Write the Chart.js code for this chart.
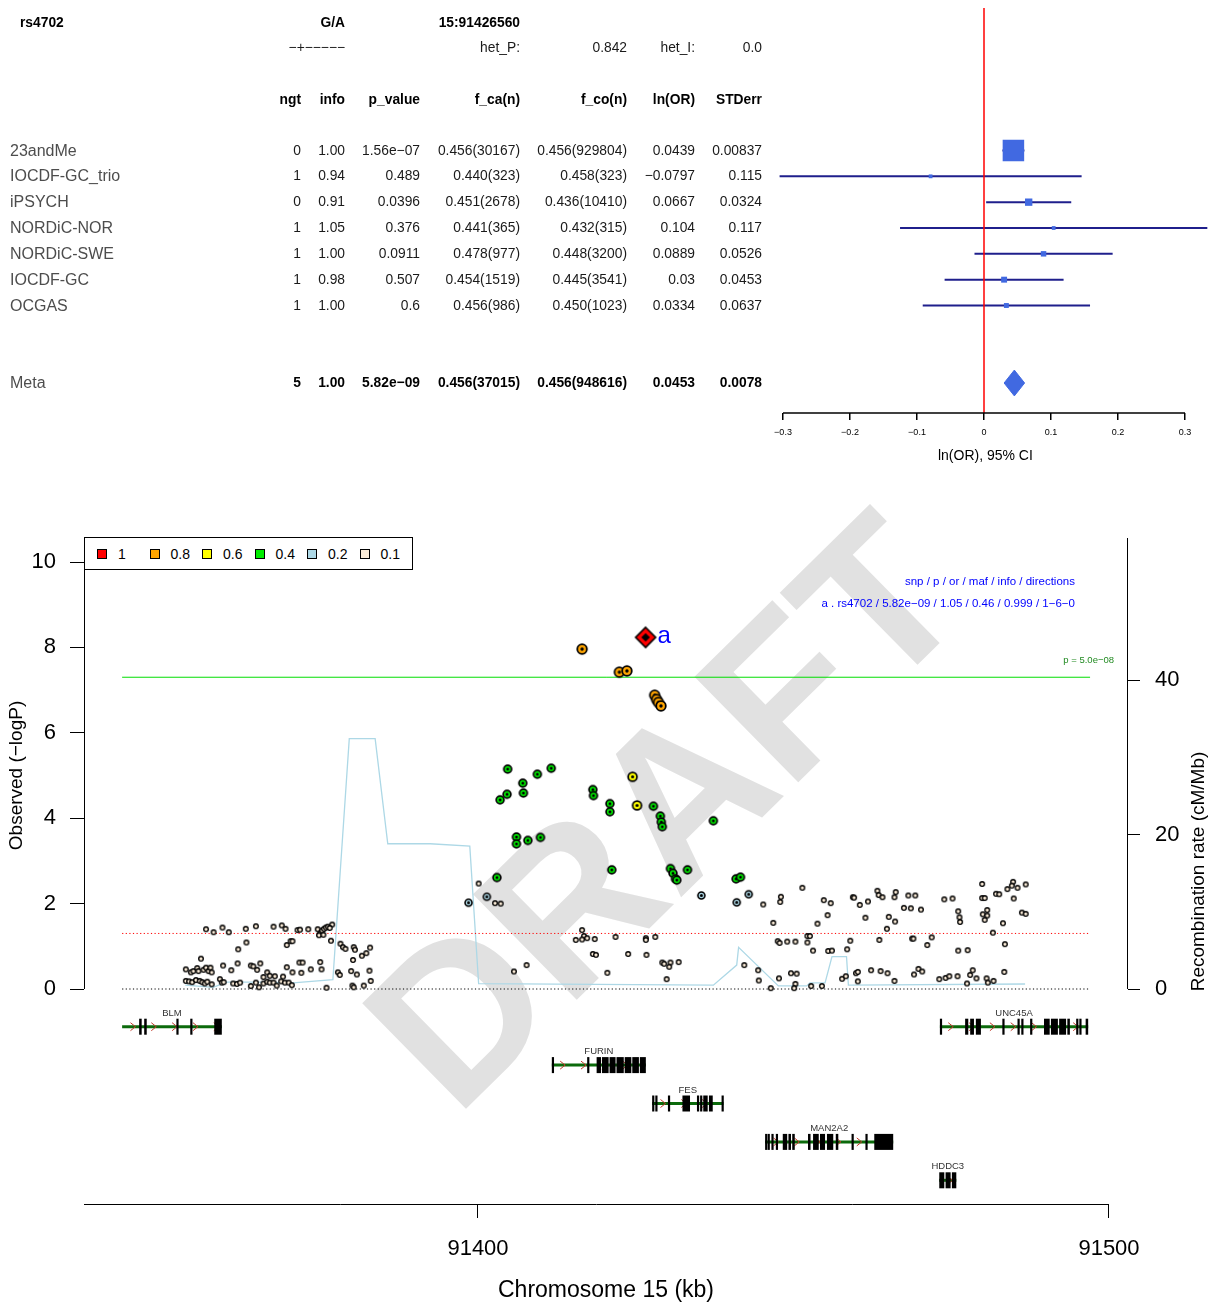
<!DOCTYPE html>
<html lang="en">
<head>
<meta charset="utf-8">
<title>rs4702 association and regional plot</title>
<script src="https://cdn.jsdelivr.net/npm/chart.js@4.4.1/dist/chart.umd.min.js"></script>
<style>
  html, body { margin:0; padding:0; background:#fff; }
  body { position:relative; width:1216px; height:1305px; overflow:hidden;
         font-family:"Liberation Sans", Arial, Helvetica, sans-serif; color:#000; }
  canvas { position:absolute; left:0; }
  #forestCanvas { top:0; }
  #locusCanvas { top:480px; }
  .cell { position:absolute; white-space:nowrap; line-height:1; transform:translateY(-50%);
          font-size:13.8px; color:#1a1a1a; }
  .cell.b { font-weight:bold; color:#000; }
  .cell.name { font-size:16px; color:#4d4d4d; }
  #ldLegend { position:absolute; left:84px; top:537px; width:329px; height:33px; box-sizing:border-box;
              border:1px solid #000; background:#fff; display:flex; align-items:center; padding-left:12px;
              font-size:14px; color:#000; }
  .lg-item { display:flex; align-items:center; width:54px; }
  .lg-sw { width:8px; height:8px; border:1px solid #000; margin-right:11px; }
</style>
</head>
<body>
<canvas id="forestCanvas" width="1216" height="480"></canvas>
<canvas id="locusCanvas" width="1216" height="825"></canvas>
<div id="ldLegend"></div>
<script>
const FONT = '"Liberation Sans", Arial, Helvetica, sans-serif';
Chart.defaults.font.family = FONT;
Chart.defaults.color = '#000';

/* ---------------- SNP summary and per-study results ---------------- */
const snpId = 'rs4702';
const snpAlleles = 'G/A';
const snpLocation = '15:91426560';
const snpDirections = '−+−−−−−';
const hetP = '0.842';
const hetI = '0.0';

const studyNames  = ['23andMe', 'IOCDF-GC_trio', 'iPSYCH', 'NORDiC-NOR', 'NORDiC-SWE', 'IOCDF-GC', 'OCGAS'];
const studyNgt    = [0, 1, 0, 1, 1, 1, 1];
const studyInfo   = ['1.00', '0.94', '0.91', '1.05', '1.00', '0.98', '1.00'];
const studyP      = ['1.56e-07', '0.489', '0.0396', '0.376', '0.0911', '0.507', '0.6'];
const studyFCase  = ['0.456(30167)', '0.440(323)', '0.451(2678)', '0.441(365)', '0.478(977)', '0.454(1519)', '0.456(986)'];
const studyFCtrl  = ['0.456(929804)', '0.458(323)', '0.436(10410)', '0.432(315)', '0.448(3200)', '0.445(3541)', '0.450(1023)'];
const studyLnOR   = [0.0439, -0.0797, 0.0667, 0.104, 0.0889, 0.03, 0.0334];
const studySE     = [0.00837, 0.115, 0.0324, 0.117, 0.0526, 0.0453, 0.0637];

const metaName  = 'Meta';
const metaNgt   = 5;
const metaInfo  = '1.00';
const metaP     = '5.82e-09';
const metaFCase = '0.456(37015)';
const metaFCtrl = '0.456(948616)';
const metaLnOR  = 0.0453;
const metaSE    = 0.0078;

const tableHeaders = ['ngt', 'info', 'p_value', 'f_ca(n)', 'f_co(n)', 'ln(OR)', 'STDerr'];
const forestTicks  = [-0.3, -0.2, -0.1, 0, 0.1, 0.2, 0.3];

/* ---------------- regional association data ---------------- */
const regionKb   = [91343.6, 91497.0];
const leadSnp    = 'rs4702';
const leadKb     = 91426.56;
const leadPText  = '5.82e-09';
const leadOR     = '1.05';
const leadMaf    = '0.46';
const leadInfoScore = '0.999';
const leadDirections = '1-6-0';
const gwsPText   = '5.0e-08';
const nominalP   = 0.05;

const ldLabels = ['1', '0.8', '0.6', '0.4', '0.2', '0.1'];
const ldColors = ['#ff0000', '#ffa500', '#ffff00', '#00ee00', '#add8e6', '#faebd7'];

// [position (kb), -log10 p] grouped by LD (r2) with the lead SNP
const ld08 = [[91416.5,7.96],[91422.4,7.42],[91423.6,7.45],[91428.0,6.88],[91428.3,6.78],[91428.6,6.71],[91429.0,6.63]];
const ld06 = [[91424.5,4.97],[91425.2,4.30]];
const ld04 = [
  [91404.7,5.15],[91407.1,4.82],[91407.2,4.59],[91404.6,4.56],[91403.5,4.43],[91409.4,5.03],[91411.6,5.17],
  [91418.2,4.67],[91418.3,4.53],[91420.9,4.34],[91420.9,4.15],[91427.8,4.28],[91428.9,4.05],[91429.05,3.91],
  [91429.2,3.80],[91437.3,3.94],[91406.1,3.56],[91406.1,3.40],[91407.9,3.48],[91409.9,3.55],
  [91403.0,2.61],[91421.2,2.79],[91430.5,2.82],[91430.9,2.71],[91431.3,2.58],[91431.5,2.55],[91433.2,2.79],
  [91440.9,2.58],[91441.6,2.62]
];
const ld02 = [[91398.5,2.02],[91401.4,2.16],[91441.0,2.03],[91442.9,2.22],[91435.4,2.19]];
const ld01 = [
  [91356.9,1.40],[91358.1,1.33],[91359.5,1.44],[91360.5,1.33],[91363.2,1.41],[91364.8,1.47],[91367.6,1.46],
  [91368.9,1.49],[91369.5,1.41],[91371.4,1.38],[91371.8,1.39],[91373.1,1.40],[91374.6,1.40],[91375.0,1.30],
  [91375.3,1.37],[91375.6,1.41],[91375.9,1.44],[91376.2,1.46],[91376.9,1.51],[91376.5,1.43],[91374.8,1.26],
  [91375.5,1.27],[91362.0,0.93],[91363.3,1.09],[91370.3,1.12],[91370.6,1.12],[91369.7,1.03],[91376.7,1.13],
  [91378.2,1.06],[91378.6,0.98],[91379.0,0.94],[91380.3,0.98],[91380.5,0.92],[91381.6,0.78],[91382.3,0.84],
  [91382.9,0.97],[91380.2,0.68],[91356.1,0.71],[91353.7,0.46],[91354.5,0.39],[91354.9,0.42],[91355.5,0.49],
  [91355.7,0.42],[91356.5,0.45],[91356.9,0.50],[91357.3,0.42],[91357.6,0.50],[91357.8,0.39],[91359.6,0.55],
  [91360.9,0.44],[91361.9,0.60],[91364.0,0.55],[91364.4,0.53],[91365.0,0.45],[91365.5,0.60],[91366.0,0.28],
  [91366.6,0.39],[91367.0,0.31],[91367.8,0.30],[91369.1,0.29],[91369.7,0.51],[91370.6,0.39],[91371.7,0.62],
  [91372.2,0.62],[91372.0,0.38],[91373.5,0.46],[91375.0,0.63],[91375.2,0.46],[91377.8,0.39],[91378.1,0.33],
  [91379.9,0.42],[91380.8,0.34],[91382.8,0.43],[91353.7,0.19],[91354.2,0.18],[91354.7,0.16],[91355.3,0.21],
  [91355.9,0.19],[91356.3,0.16],[91356.7,0.13],[91357.1,0.17],[91357.8,0.11],[91359.1,0.23],[91359.4,0.15],
  [91359.7,0.16],[91361.2,0.13],[91361.8,0.12],[91362.3,0.15],[91364.0,0.07],[91364.8,0.15],[91365.3,0.04],
  [91366.0,0.13],[91366.6,0.17],[91367.0,0.15],[91367.6,0.15],[91368.1,0.08],[91368.8,0.18],[91369.4,0.15],
  [91370.0,0.15],[91370.5,0.09],[91376.0,0.03],[91380.1,0.08],[91380.3,0.04],[91381.9,0.08],[91383.0,0.19],
  [91400.1,2.47],[91402.7,2.01],[91403.6,2.00],[91416.5,1.38],[91416.8,1.24],[91415.5,1.15],[91416.5,1.16],
  [91417.3,1.19],[91418.5,1.17],[91421.8,1.22],[91426.6,1.19],[91426.6,1.15],[91428.1,1.22],[91418.2,0.82],
  [91418.7,0.80],[91423.8,0.82],[91426.7,0.80],[91405.7,0.41],[91407.7,0.56],[91420.5,0.38],[91429.2,0.62],
  [91429.5,0.59],[91430.5,0.62],[91430.3,0.52],[91431.8,0.63],[91429.9,0.23],[91445.2,1.98],[91446.8,1.55],
  [91447.5,1.12],[91442.2,0.56],[91444.4,0.44],[91444.5,0.20],[91446.4,0.02],[91447.7,0.25],
  [91451.4,2.37],[91448.0,2.16],[91447.9,2.04],[91454.8,2.08],[91455.9,2.01],[91455.4,1.73],[91453.8,1.53],
  [91459.4,2.15],[91459.6,2.14],[91460.5,1.97],[91461.8,2.05],[91461.4,1.67],[91463.3,2.30],[91463.5,2.20],
  [91464.1,2.15],[91466.2,2.27],[91466.0,2.15],[91468.2,2.19],[91469.3,2.19],[91467.5,1.90],[91468.6,1.89],
  [91470.2,1.86],[91465.1,1.69],[91466.1,1.58],[91464.8,1.41],[91473.9,2.10],[91475.2,2.12],[91476.1,1.82],
  [91476.3,1.68],[91476.4,1.57],[91479.9,2.46],[91479.9,2.13],[91480.3,2.13],[91480.7,1.85],[91480.0,1.75],
  [91480.7,1.72],[91480.3,1.62],[91482.1,2.23],[91482.6,2.22],[91483.9,2.34],[91484.8,2.51],[91484.6,2.42],
  [91485.5,2.37],[91486.8,2.45],[91484.9,2.12],[91486.2,1.79],[91486.8,1.76],[91483.2,1.54],[91481.6,1.32],
  [91483.5,1.05],[91447.8,1.08],[91449.0,1.11],[91450.3,1.11],[91452.2,1.24],[91452.6,1.24],[91452.2,1.09],
  [91453.1,0.90],[91455.5,0.89],[91456.1,0.90],[91458.5,0.93],[91459.0,1.13],[91463.6,1.15],[91468.8,1.18],
  [91469.0,1.18],[91471.9,1.21],[91471.2,1.03],[91476.1,0.90],[91477.6,0.91],[91449.6,0.37],[91450.5,0.36],
  [91450.3,0.12],[91450.1,0.02],[91452.8,0.07],[91454.5,0.07],[91457.7,0.24],[91458.3,0.30],[91459.9,0.37],
  [91460.2,0.40],[91460.2,0.18],[91462.3,0.44],[91463.8,0.42],[91464.9,0.37],[91466.0,0.19],[91469.1,0.34],
  [91469.8,0.47],[91470.4,0.41],[91473.1,0.23],[91474.1,0.26],[91474.7,0.30],[91476.0,0.30],[91477.5,0.13],
  [91478.0,0.33],[91478.4,0.44],[91479.0,0.25],[91480.6,0.25],[91480.8,0.15],[91481.7,0.19],[91483.4,0.40]
];

// recombination rate (cM/Mb)
const recombKb   = [91353.6, 91358.0, 91360.2, 91365.5, 91370.7, 91377.0, 91379.6, 91383.7, 91385.7, 91392.4,
                    91398.7, 91400.1, 91437.3, 91441.0, 91441.3, 91447.6, 91452.1, 91452.6, 91455.0, 91456.1,
                    91458.4, 91458.7, 91486.7];
const recombRate = [0.5, 0.2, 0.9, 0.9, 0.8, 1.2, 32.4, 32.4, 18.8, 18.8,
                    18.5, 0.7, 0.5, 3.1, 5.4, 0.4, 0.4, 0.8, 0.8, 4.2,
                    4.2, 0.5, 0.65];

// genes in the region
const geneNames = ['BLM', 'UNC45A', 'FURIN', 'FES', 'MAN2A2', 'HDDC3'];
const geneStart = [91260.6, 91473.2, 91411.7, 91427.6, 91445.5, 91473.1];
const geneEnd   = [91359.4, 91496.7, 91426.6, 91438.9, 91465.8, 91475.8];
const geneRow   = [1, 1, 2, 3, 4, 5];
const geneExons = [
  [[91346.3,91346.7],[91347.1,91347.5],[91352.2,91352.5],[91354.4,91354.7],[91358.2,91359.4]],
  [[91473.2,91473.5],[91477.2,91477.7],[91478.0,91478.6],[91478.9,91479.7],[91483.1,91483.4],[91485.5,91485.8],
   [91486.1,91486.4],[91487.5,91487.8],[91489.7,91490.6],[91490.8,91491.9],[91492.1,91493.2],[91493.4,91493.8],
   [91494.8,91495.1],[91495.3,91495.6],[91496.3,91496.7]],
  [[91411.7,91412.0],[91417.3,91417.6],[91418.8,91419.5],[91419.65,91420.7],[91420.85,91421.8],[91421.95,91423.1],
   [91423.25,91424.3],[91424.45,91425.5],[91425.65,91426.6]],
  [[91427.6,91427.9],[91428.1,91428.4],[91430.1,91430.4],[91432.4,91433.6],[91434.7,91435.0],[91435.2,91435.4],
   [91435.7,91436.4],[91436.6,91437.2],[91438.6,91438.9]],
  [[91445.5,91445.8],[91445.9,91446.2],[91446.5,91446.8],[91447.2,91447.5],[91448.3,91449.0],[91449.2,91449.6],
   [91449.8,91450.2],[91452.3,91452.7],[91453.1,91454.0],[91454.2,91455.0],[91455.3,91456.3],[91456.7,91457.1],
   [91459.2,91459.5],[91461.4,91461.7],[91462.8,91465.8]],
  [[91473.1,91473.9],[91474.1,91474.9],[91475.1,91475.8]]
];

const logPTicks   = [0, 2, 4, 6, 8, 10];
const recombTicks = [0, 20, 40];
const kbTicks     = [91400, 91500];

/* ---------------- helpers ---------------- */
const minus = s => String(s).replace(/-/g, '\u2212');
const toXY = arr => arr.map(([x, y]) => ({ x, y }));

// Sets a scale's min/max so that two reference values land on the given pixels of the laid-out chart.
function fitScales(chart, specs) {
  for (let pass = 0; pass < 3; pass++) {
    const ca = chart.chartArea;
    specs.forEach(([id, v1, p1, v2, p2]) => {
      const ppu = (p2 - p1) / (v2 - v1);
      const horizontal = chart.scales[id].isHorizontal();
      const a = v1 + ((horizontal ? ca.left : ca.top) - p1) / ppu;
      const b = v1 + ((horizontal ? ca.right : ca.bottom) - p1) / ppu;
      chart.options.scales[id].min = Math.min(a, b);
      chart.options.scales[id].max = Math.max(a, b);
    });
    chart.update('none');
  }
}

function ringStyle(fill, r, bw, dotR) {
  const s = Math.ceil(2 * (r + bw)) + 2;
  const c = document.createElement('canvas');
  c.width = c.height = s;
  const g = c.getContext('2d');
  g.beginPath(); g.arc(s / 2, s / 2, r, 0, 2 * Math.PI);
  g.fillStyle = fill; g.fill();
  g.lineWidth = bw; g.strokeStyle = '#000'; g.stroke();
  if (dotR) { g.beginPath(); g.arc(s / 2, s / 2, dotR, 0, 2 * Math.PI); g.fillStyle = '#000'; g.fill(); }
  return c;
}
function diamondStyle(fill, h, inner) {
  const s = 2 * h + 4, m = s / 2;
  const c = document.createElement('canvas');
  c.width = c.height = s;
  const g = c.getContext('2d');
  const dia = (r) => { g.beginPath(); g.moveTo(m, m - r); g.lineTo(m + r, m); g.lineTo(m, m + r); g.lineTo(m - r, m); g.closePath(); };
  dia(h); g.fillStyle = fill; g.fill(); g.lineWidth = 1.6; g.strokeStyle = '#000'; g.stroke();
  dia(inner); g.fillStyle = '#000'; g.fill();
  return c;
}

/* ---------------- forest plot ---------------- */
const forestRows = studyNames.map((_, i) => i);
const metaRowIdx = 9;
const forestTopRow = -5.52;   // the null line starts just above the table title row

const forestAxisLine = {
  id: 'forestAxisLine',
  afterDraw(chart) {
    const { ctx, chartArea, scales: { x } } = chart;
    ctx.save();
    ctx.strokeStyle = '#000'; ctx.lineWidth = 1.5;
    ctx.beginPath();
    ctx.moveTo(x.getPixelForValue(forestTicks[0]), chartArea.bottom);
    ctx.lineTo(x.getPixelForValue(forestTicks[forestTicks.length - 1]), chartArea.bottom);
    ctx.stroke();
    ctx.restore();
  }
};

const ciSets = studyNames.map((n, i) => ({
  label: n + ' CI',
  data: [{ x: studyLnOR[i] - 1.96 * studySE[i], y: forestRows[i] }, { x: studyLnOR[i] + 1.96 * studySE[i], y: forestRows[i] }],
  showLine: true, borderColor: '#1f1f8c', borderWidth: 2, pointRadius: 0, order: 5, clip: false
}));
const metaLo = metaLnOR - 1.96 * metaSE, metaHi = metaLnOR + 1.96 * metaSE;

const forest = new Chart(document.getElementById('forestCanvas'), {
  type: 'scatter',
  data: {
    datasets: [
      ...ciSets,
      {
        label: 'estimate',
        data: studyLnOR.map((v, i) => ({ x: v, y: forestRows[i] })),
        pointStyle: 'rect',
        pointRadius: studySE.map(se => (1.2 + 0.08 / se) / Math.SQRT1_2),
        backgroundColor: '#4169e1', borderWidth: 0, order: 3, clip: false
      },
      {
        label: 'meta',
        data: [{ x: metaLo, y: metaRowIdx }, { x: metaLnOR, y: metaRowIdx - 0.5 }, { x: metaHi, y: metaRowIdx },
               { x: metaLnOR, y: metaRowIdx + 0.5 }, { x: metaLo, y: metaRowIdx }],
        showLine: true, fill: 'shape', backgroundColor: '#4169e1', borderColor: '#4169e1', borderWidth: 1,
        pointRadius: 0, order: 2
      },
      {
        label: 'null',
        data: [{ x: 0, y: forestTopRow }, { x: 0, y: 50 }],
        showLine: true, borderColor: '#ff0000', borderWidth: 1.5, pointRadius: 0, order: 1,
        clip: { left: 0, right: 0, top: false, bottom: 0 }
      }
    ]
  },
  options: {
    responsive: false, animation: false, events: [],
    layout: { padding: { left: 770, right: 0, top: 1, bottom: 7 } },
    plugins: { legend: { display: false }, tooltip: { enabled: false } },
    scales: {
      x: {
        type: 'linear', min: -0.32, max: 0.34,
        afterFit: s => { s.height = 60; },
        afterBuildTicks: s => { s.ticks = forestTicks.map(v => ({ value: v })); },
        border: { display: false },
        grid: { drawOnChartArea: false, drawTicks: true, tickLength: 7, color: '#000', lineWidth: 1.5 },
        ticks: { font: { size: 9 }, color: '#000', padding: 7, maxRotation: 0, autoSkip: false,
                 callback: v => minus(v) },
        title: { display: true, text: 'ln(OR), 95% CI', font: { size: 14 }, color: '#000', padding: { top: 2, bottom: 8 } }
      },
      y: { type: 'linear', display: false, reverse: true, min: -5.5, max: 10.2 }
    }
  },
  plugins: [forestAxisLine]
});
fitScales(forest, [['x', 0, 984, 0.1, 1051], ['y', 0, 150.5, metaRowIdx, 383]]);

/* ---------------- association table ---------------- */
const colRight = [301, 345, 420, 520, 627, 695, 762];
function placeText(txt, o) {
  const d = document.createElement('div');
  d.className = 'cell' + (o.bold ? ' b' : '') + (o.name ? ' name' : '');
  d.textContent = txt;
  d.style.top = o.y + 'px';
  if (o.right != null) d.style.right = (1216 - o.right) + 'px';
  else d.style.left = o.left + 'px';
  document.body.appendChild(d);
}
(function buildTable() {
  const ys = forest.scales.y;
  const r = v => ys.getPixelForValue(v);
  placeText(snpId, { left: 20, y: r(-4.95), bold: true });
  placeText(snpAlleles, { right: colRight[1], y: r(-4.95), bold: true });
  placeText(snpLocation, { right: colRight[3], y: r(-4.95), bold: true });
  placeText(snpDirections, { right: colRight[1], y: r(-3.95) });
  placeText('het_P:', { right: colRight[3], y: r(-3.95) });
  placeText(hetP, { right: colRight[4], y: r(-3.95) });
  placeText('het_I:', { right: colRight[5], y: r(-3.95) });
  placeText(hetI, { right: colRight[6], y: r(-3.95) });
  tableHeaders.forEach((h, c) => placeText(h, { right: colRight[c], y: r(-1.97), bold: true }));
  studyNames.forEach((n, i) => {
    const y = r(forestRows[i]);
    placeText(n, { left: 10, y, name: true });
    [String(studyNgt[i]), studyInfo[i], minus(studyP[i]), studyFCase[i], studyFCtrl[i],
     minus(studyLnOR[i]), String(studySE[i])].forEach((t, c) => placeText(t, { right: colRight[c], y }));
  });
  const ym = r(metaRowIdx);
  placeText(metaName, { left: 10, y: ym, name: true });
  [String(metaNgt), metaInfo, minus(metaP), metaFCase, metaFCtrl, String(metaLnOR), String(metaSE)]
    .forEach((t, c) => placeText(t, { right: colRight[c], y: ym, bold: true }));
})();

/* ---------------- LD legend ---------------- */
(function buildLegend() {
  const box = document.getElementById('ldLegend');
  ldLabels.forEach((lab, i) => {
    const it = document.createElement('div'); it.className = 'lg-item';
    const sw = document.createElement('div'); sw.className = 'lg-sw'; sw.style.background = ldColors[i];
    const tx = document.createElement('span'); tx.textContent = lab;
    it.appendChild(sw); it.appendChild(tx); box.appendChild(it);
  });
})();

/* ---------------- regional plot ---------------- */
const leadY = -Math.log10(Number(leadPText));
const gwsY = -Math.log10(Number(gwsPText));
const nominalY = -Math.log10(nominalP);

const locusDecor = {
  id: 'locusDecor',
  beforeDatasetsDraw(chart) {
    const { ctx, chartArea: ca, scales: { x, y, y2, gy } } = chart;
    // watermark
    ctx.save();
    ctx.translate(ca.left + 0.553 * (ca.right - ca.left), ca.top + 0.405 * (ca.bottom - ca.top));
    ctx.rotate(-44.5 * Math.PI / 180);
    ctx.font = 'bold 215px ' + FONT;
    ctx.fillStyle = '#e1e1e1';
    ctx.textAlign = 'center'; ctx.textBaseline = 'alphabetic';
    ctx.fillText('DRAFT', 0, 0.36 * 215);
    ctx.restore();

    // axis lines
    ctx.save();
    ctx.strokeStyle = '#000'; ctx.lineWidth = 1;
    ctx.beginPath();
    ctx.moveTo(ca.left + 0.5, y.getPixelForValue(logPTicks[0]));
    ctx.lineTo(ca.left + 0.5, y.getPixelForValue(logPTicks[logPTicks.length - 1]));
    ctx.moveTo(ca.right - 0.5, y2.getPixelForValue(recombTicks[0]));
    ctx.lineTo(ca.right - 0.5, ca.top);
    ctx.moveTo(ca.left, ca.bottom - 0.5);
    ctx.lineTo(x.getPixelForValue(kbTicks[kbTicks.length - 1]), ca.bottom - 0.5);
    ctx.stroke();
    ctx.restore();

    // gene track
    ctx.save();
    geneNames.forEach((name, i) => {
      const s = Math.max(geneStart[i], regionKb[0]);
      const e = Math.min(geneEnd[i], regionKb[1]);
      const x0 = x.getPixelForValue(s), x1 = x.getPixelForValue(e);
      const yy = gy.getPixelForValue(geneRow[i]);
      ctx.strokeStyle = '#0b6a0b'; ctx.lineWidth = 3;
      ctx.beginPath(); ctx.moveTo(x0, yy); ctx.lineTo(x1, yy); ctx.stroke();
      ctx.strokeStyle = '#c0392b'; ctx.lineWidth = 1;
      for (let k = s + 1.8; k < e - 0.6; k += 3.3) {
        const px = x.getPixelForValue(k);
        ctx.beginPath(); ctx.moveTo(px - 3, yy - 4); ctx.lineTo(px + 2, yy); ctx.lineTo(px - 3, yy + 4); ctx.stroke();
      }
      ctx.fillStyle = '#000';
      geneExons[i].forEach(([a, b]) => {
        const xa = x.getPixelForValue(a), xb = x.getPixelForValue(b);
        ctx.fillRect(xa, yy - 8, Math.max(2.2, xb - xa), 16);
      });
      ctx.font = '9.5px ' + FONT; ctx.fillStyle = '#333';
      ctx.textAlign = 'center'; ctx.textBaseline = 'middle';
      ctx.fillText(name, (x0 + x1) / 2, yy - 13.5);
    });
    ctx.restore();
  },
  afterDraw(chart) {
    const { ctx, chartArea: ca, scales: { x, y } } = chart;
    ctx.save();
    // lead SNP tag
    ctx.font = '24px ' + FONT; ctx.fillStyle = '#0000ff';
    ctx.textAlign = 'left'; ctx.textBaseline = 'middle';
    ctx.fillText('a', x.getPixelForValue(leadKb) + 12, y.getPixelForValue(leadY) - 1);
    // lead SNP summary
    ctx.font = '11.5px ' + FONT; ctx.textAlign = 'right';
    const ax = x.getPixelForValue(91494.6);
    ctx.fillText('snp / p / or / maf / info / directions', ax, y.getPixelForValue(9.53));
    ctx.fillText(minus(`a . ${leadSnp} / ${leadPText} / ${leadOR} / ${leadMaf} / ${leadInfoScore} / ${leadDirections}`),
                 ax, y.getPixelForValue(9.02));
    // significance label
    ctx.font = '9.5px ' + FONT; ctx.fillStyle = '#228b22';
    ctx.fillText(minus('p = ' + gwsPText), x.getPixelForValue(91500.8), y.getPixelForValue(gwsY) - 17);
    // axis titles
    ctx.fillStyle = '#000'; ctx.textAlign = 'center'; ctx.textBaseline = 'middle';
    ctx.font = '19px ' + FONT;
    ctx.save();
    ctx.translate(17, (y.getPixelForValue(logPTicks[0]) + y.getPixelForValue(logPTicks[logPTicks.length - 1])) / 2);
    ctx.rotate(-Math.PI / 2);
    ctx.fillText('Observed (\u2212logP)', 0, 0);
    ctx.restore();
    ctx.save();
    ctx.translate(1199, (ca.top + ca.bottom) / 2);
    ctx.rotate(-Math.PI / 2);
    ctx.fillText('Recombination rate (cM/Mb)', 0, 0);
    ctx.restore();
    ctx.restore();
  }
};

const ringSpecs = [
  { data: ld01, style: ringStyle(ldColors[5], 2.3, 1.35, 0), order: 8 },
  { data: ld02, style: ringStyle(ldColors[4], 3.5, 1.6, 1.5), order: 7 },
  { data: ld04, style: ringStyle(ldColors[3], 3.9, 1.7, 1.5), order: 6 },
  { data: ld06, style: ringStyle(ldColors[2], 4.4, 1.7, 1.6), order: 5 },
  { data: ld08, style: ringStyle(ldColors[1], 4.8, 1.8, 1.7), order: 4 }
];

const lineAt = (yv) => [{ x: regionKb[0], y: yv }, { x: regionKb[1], y: yv }];

const locus = new Chart(document.getElementById('locusCanvas'), {
  type: 'scatter',
  data: {
    datasets: [
      { label: 'recombination', yAxisID: 'y2', data: recombKb.map((k, i) => ({ x: k, y: recombRate[i] })),
        showLine: true, borderColor: '#add8e6', borderWidth: 1.3, pointRadius: 0, order: 12 },
      { label: 'zero', data: lineAt(0), showLine: true, borderColor: '#000', borderWidth: 1,
        borderDash: [1.2, 2.4], pointRadius: 0, order: 11 },
      { label: 'nominal', data: lineAt(nominalY), showLine: true, borderColor: '#ff0000', borderWidth: 1,
        borderDash: [1.2, 2.4], pointRadius: 0, order: 11 },
      { label: 'genome-wide', data: lineAt(gwsY), showLine: true, borderColor: '#00dd00', borderWidth: 1,
        pointRadius: 0, order: 10 },
      ...ringSpecs.map((r, i) => ({ label: 'ld' + i, data: toXY(r.data), pointStyle: r.style, pointRadius: 5, order: r.order })),
      { label: 'lead', data: [{ x: leadKb, y: leadY }], pointStyle: diamondStyle(ldColors[0], 10, 4.3),
        pointRadius: 10, order: 1 }
    ]
  },
  options: {
    responsive: false, animation: false, events: [],
    layout: { padding: { left: 0, right: 0, top: 58, bottom: 0 } },
    plugins: { legend: { display: false }, tooltip: { enabled: false } },
    scales: {
      x: {
        type: 'linear', position: 'bottom', min: 91337.56, max: 91503.01,
        afterFit: s => { s.height = 100; },
        afterBuildTicks: s => { s.ticks = kbTicks.map(v => ({ value: v })); },
        border: { display: false },
        grid: { drawOnChartArea: false, drawTicks: true, tickLength: 13, color: '#000', lineWidth: 1 },
        ticks: { font: { size: 22 }, color: '#000', padding: 18, maxRotation: 0, autoSkip: false, callback: v => String(v) },
        title: { display: true, text: 'Chromosome 15 (kb)', font: { size: 23 }, color: '#000', padding: { top: 0, bottom: 1 } }
      },
      y: {
        type: 'linear', position: 'left', min: -5.059, max: 10.562,
        afterFit: s => { s.width = 84; },
        afterBuildTicks: s => { s.ticks = logPTicks.map(v => ({ value: v })); },
        border: { display: false },
        grid: { drawOnChartArea: false, drawTicks: true, tickLength: 14, color: '#000', lineWidth: 1 },
        ticks: { font: { size: 22 }, color: '#000', padding: 14, autoSkip: false, callback: v => String(v) }
      },
      y2: {
        type: 'linear', position: 'right', min: -27.96, max: 58.38,
        afterFit: s => { s.width = 88; },
        afterBuildTicks: s => { s.ticks = recombTicks.map(v => ({ value: v })); },
        border: { display: false },
        grid: { drawOnChartArea: false, drawTicks: true, tickLength: 12, color: '#000', lineWidth: 1 },
        ticks: { font: { size: 22 }, color: '#000', padding: 15, autoSkip: false, callback: v => String(v) }
      },
      gy: { type: 'linear', axis: 'y', position: 'left', display: false, reverse: true, min: -11.727, max: 5.643 }
    }
  },
  plugins: [locusDecor]
});
// canvas sits 480px below the page top
fitScales(locus, [
  ['x', 91400, 478, 91500, 1109],
  ['y', 0, 989 - 480, 10, 562 - 480],
  ['y2', 0, 989 - 480, 40, 680 - 480],
  ['gy', 1, 1026.7 - 480, 5, 1180.3 - 480]
]);
</script>
</body>
</html>
